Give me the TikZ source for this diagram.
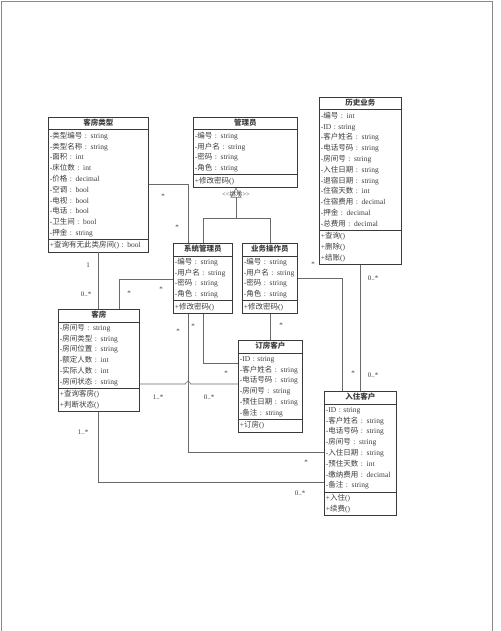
\documentclass[tikz,border=0pt]{standalone}
\usepackage{fontspec}
\setmainfont{Liberation Serif}
\newfontfamily\cjkfont{Noto Sans CJK SC}
% switch to the CJK family for Chinese characters
\XeTeXinterchartokenstate=1
\newXeTeXintercharclass\cjkclass
\newcount\cjkcode
\cjkcode="4E00
\loop\ifnum\cjkcode<"A000
  \XeTeXcharclass\cjkcode=\cjkclass
  \advance\cjkcode by 1
\repeat
\XeTeXinterchartoks 0 \cjkclass={\cjkfont}
\XeTeXinterchartoks 4095 \cjkclass={\cjkfont}
\XeTeXinterchartoks \cjkclass 0={\rmfamily}
\XeTeXinterchartoks \cjkclass 4095={\rmfamily}
\usetikzlibrary{shapes.multipart,arrows.meta}
\definecolor{boxline}{HTML}{3A3A3A}
\definecolor{linkgray}{HTML}{6A6A6A}
\definecolor{textgray}{HTML}{3C3C3C}
\definecolor{framegray}{HTML}{8A8A8A}

\begin{document}
\begin{tikzpicture}[x=1pt,y=-1pt,
    umlclass/.style={rectangle split,rectangle split parts=3,draw=boxline,line width=0.7pt,
      inner xsep=1.5pt,inner ysep=0.5pt,align=left,anchor=north west,text=textgray,
      font=\fontsize{7.5}{10.8}\selectfont},
    link/.style={linkgray,line width=0.6pt},
    mult/.style={text=textgray,font=\fontsize{7}{8}\selectfont,inner sep=0pt}]
  % page is 500 x 631, y runs downwards
  \useasboundingbox (0,0) rectangle (500,631);
  \draw[framegray,line width=0.8pt] (1,631) -- (1,1) -- (492,1) -- (492,631);

  % classes
  \node[umlclass,text width=97pt] (kflx) at (48,117) {\strut\hfill\textbf{客房类型}\hfill\strut
    \nodepart{two}\strut-类型编号 : string\\-类型名称 : string\\-面积 : int\\-床位数 : int\\-价格 : decimal\\
      -空调 : bool\\-电视 : bool\\-电话 : bool\\-卫生间 : bool\\-押金 : string\strut
    \nodepart{three}\strut+查询有无此类房间() : bool\strut};
  \node[umlclass,text width=101pt] (gly) at (193,117) {\strut\hfill\textbf{管理员}\hfill\strut
    \nodepart{two}\strut-编号 : string\\-用户名 : string\\-密码 : string\\-角色 : string\strut
    \nodepart{three}\strut+修改密码()\strut};
  \node[umlclass,text width=79pt] (lsyw) at (319,97) {\strut\hfill\textbf{历史业务}\hfill\strut
    \nodepart{two}\strut-编号 : int\\-ID : string\\-客户姓名 : string\\-电话号码 : string\\-房间号 : string\\
      -入住日期 : string\\-退宿日期 : string\\-住宿天数 : int\\-住宿费用 : decimal\\-押金 : decimal\\
      -总费用 : decimal\strut
    \nodepart{three}\strut+查询()\\+删除()\\+结账()\strut};
  \node[umlclass,text width=56pt] (xtgly) at (173,243) {\strut\hfill\textbf{系统管理员}\hfill\strut
    \nodepart{two}\strut-编号 : string\\-用户名 : string\\-密码 : string\\-角色 : string\strut
    \nodepart{three}\strut+修改密码()\strut};
  \node[umlclass,text width=52pt] (ywczy) at (242,243) {\strut\hfill\textbf{业务操作员}\hfill\strut
    \nodepart{two}\strut-编号 : string\\-用户名 : string\\-密码 : string\\-角色 : string\strut
    \nodepart{three}\strut+修改密码()\strut};
  \node[umlclass,text width=78pt] (kf) at (58,309) {\strut\hfill\textbf{客房}\hfill\strut
    \nodepart{two}\strut-房间号 : string\\-房间类型 : string\\-房间位置 : string\\-额定人数 : int\\
      -实际人数 : int\\-房间状态 : string\strut
    \nodepart{three}\strut+查询客房()\\+判断状态()\strut};
  \node[umlclass,text width=61pt] (dfkh) at (238,340) {\strut\hfill\textbf{订房客户}\hfill\strut
    \nodepart{two}\strut-ID : string\\-客户姓名 : string\\-电话号码 : string\\-房间号 : string\\
      -预住日期 : string\\-备注 : string\strut
    \nodepart{three}\strut+订房()\strut};
  \node[umlclass,text width=69pt] (rzkh) at (324,391) {\strut\hfill\textbf{入住客户}\hfill\strut
    \nodepart{two}\strut-ID : string\\-客户姓名 : string\\-电话号码 : string\\-房间号 : string\\
      -入住日期 : string\\-预住天数 : int\\-缴纳费用 : decimal\\-备注 : string\strut
    \nodepart{three}\strut+入住()\\+续费()\strut};

  % generalisation
  \coordinate (inh) at (236,218);
  \coordinate (inhL) at (203,218);
  \coordinate (inhR) at (270,218);
  \node[mult,font=\fontsize{6.5}{7}\selectfont] (stereo) at (236,194) {<\kern0pt<继承>\kern0pt>};
  \draw[link,-{Triangle[open,length=10pt,width=11pt]}] (inh) -- (gly.south -| inh);
  \draw[link] (xtgly.north -| inhL) -- (inhL) -- (inhR) -- (ywczy.north -| inhR);

  % associations, bend points
  \coordinate (a1) at (188,184);
  \coordinate (b1) at (119,279);
  \coordinate (c1) at (188,452);
  \coordinate (d1) at (203,363);
  \coordinate (e1) at (188,384);
  \coordinate (f1) at (98,482);
  \coordinate (h1) at (342,278);

  \draw[link] (kflx.south) -- (kflx.south |- kf.north);
  \draw[link] (kflx.east |- a1) -| (xtgly.north -| a1);
  \draw[link] (kf.north -| b1) |- (xtgly.west |- b1);
  \draw[link] (xtgly.south -| c1) -- (c1) -- (rzkh.west |- c1);
  \draw[link] (xtgly.south -| d1) |- (dfkh.west |- d1);
  \draw[link] (kf.east |- e1) -- ([xshift=-2.5pt]e1) arc[start angle=180,end angle=0,radius=2.5pt]
    -- (dfkh.west |- e1);
  \draw[link] (kf.south -| f1) |- (rzkh.west |- f1);
  \draw[link] (ywczy.south) -- (ywczy.south |- dfkh.north);
  \draw[link] (ywczy.east |- h1) -| (rzkh.north -| h1);
  \draw[link] (lsyw.south) -- (lsyw.south |- rzkh.north);

  % multiplicities
  \node[mult] (m1) at (88,265) {1};
  \node[mult] (m2) at (86,294) {0..*};
  \node[mult] (m3) at (163,196) {*};
  \node[mult] (m4) at (177,227) {*};
  \node[mult] (m5) at (129,293) {*};
  \node[mult] (m6) at (161,289) {*};
  \node[mult] (m7) at (178,331) {*};
  \node[mult] (m8) at (306,462) {*};
  \node[mult] (m9) at (193,326) {*};
  \node[mult] (m10) at (226,373) {*};
  \node[mult] (m11) at (158,397) {1..*};
  \node[mult] (m12) at (209,397) {0..*};
  \node[mult] (m13) at (83,432) {1..*};
  \node[mult] (m14) at (300,493) {0..*};
  \node[mult] (m15) at (281,325) {*};
  \node[mult] (m16) at (313,264) {*};
  \node[mult] (m17) at (353,373) {*};
  \node[mult] (m18) at (373,278) {0..*};
  \node[mult] (m19) at (373,375) {0..*};
\end{tikzpicture}
\end{document}
